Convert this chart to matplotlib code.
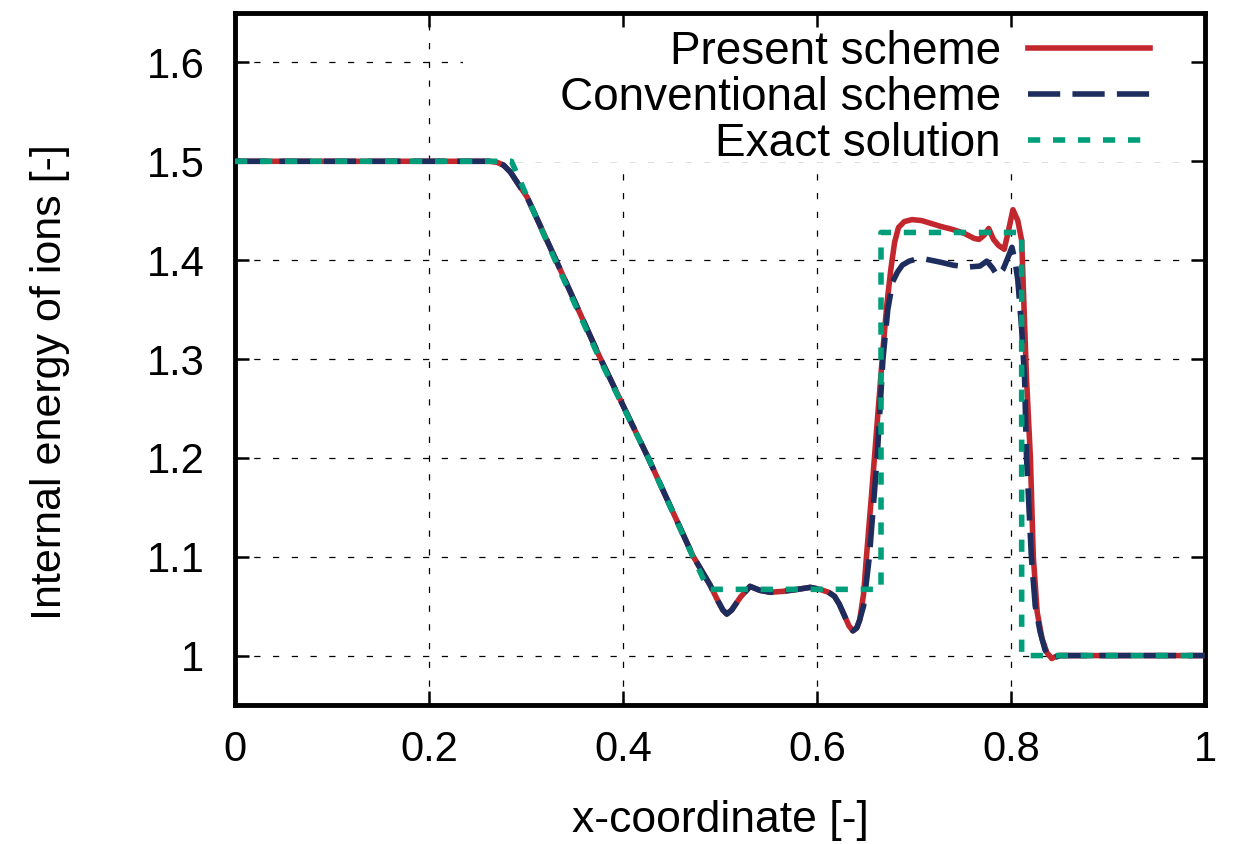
import matplotlib
matplotlib.use("Agg")
import matplotlib.pyplot as plt
from matplotlib.patches import Rectangle

plt.rcParams['font.family'] = ['Liberation Sans', 'DejaVu Sans']

# ---------------- data ----------------
x_present = [0, 0.262, 0.270, 0.277, 0.284, 0.292, 0.301, 0.330, 0.376, 0.426,
             0.472, 0.481, 0.490, 0.498, 0.503, 0.507, 0.512, 0.521, 0.531, 0.541,
             0.552, 0.565, 0.580, 0.593, 0.603, 0.612, 0.618, 0.623, 0.628, 0.633,
             0.637, 0.641, 0.644, 0.648, 0.651, 0.656, 0.660, 0.664, 0.668, 0.672,
             0.676, 0.680, 0.684, 0.690, 0.698, 0.708, 0.718, 0.728, 0.740, 0.752,
             0.762, 0.767, 0.772, 0.777, 0.782, 0.787, 0.793, 0.797, 0.802, 0.807,
             0.811, 0.816, 0.820, 0.823, 0.827, 0.832, 0.837, 0.842, 0.848, 0.86, 1.0]
e_present = [1.5, 1.5, 1.499, 1.496, 1.489, 1.477, 1.464, 1.402, 1.302, 1.2,
             1.101, 1.086, 1.071, 1.055, 1.046, 1.042, 1.046, 1.059, 1.070, 1.066,
             1.064, 1.065, 1.067, 1.069, 1.067, 1.064, 1.060, 1.052, 1.041, 1.030,
             1.025, 1.028, 1.036, 1.062, 1.10, 1.16, 1.21, 1.26, 1.31, 1.355,
             1.39, 1.418, 1.433, 1.439, 1.441, 1.440, 1.437, 1.434, 1.431, 1.427,
             1.422, 1.421, 1.425, 1.432, 1.421, 1.415, 1.411, 1.428, 1.451, 1.440,
             1.42, 1.28, 1.2, 1.1, 1.044, 1.017, 1.003, 0.997, 1.0, 1.0, 1.0]

x_conv = [0, 0.262, 0.270, 0.277, 0.284, 0.292, 0.301, 0.330, 0.376, 0.426,
          0.472, 0.481, 0.490, 0.498, 0.503, 0.507, 0.512, 0.521, 0.531, 0.541,
          0.552, 0.565, 0.580, 0.593, 0.603, 0.612, 0.618, 0.623, 0.628, 0.633,
          0.637, 0.641, 0.644, 0.648, 0.651, 0.654, 0.658, 0.662, 0.665, 0.668,
          0.673, 0.678, 0.683, 0.688, 0.695, 0.702, 0.712, 0.727, 0.740, 0.755,
          0.768, 0.775, 0.781, 0.786, 0.792, 0.797, 0.801, 0.804, 0.807, 0.811,
          0.814, 0.816, 0.821, 0.825, 0.830, 0.835, 0.839, 0.843, 0.85, 0.86, 1.0]
e_conv = [1.5, 1.5, 1.499, 1.496, 1.489, 1.477, 1.464, 1.402, 1.302, 1.2,
          1.101, 1.086, 1.071, 1.055, 1.046, 1.042, 1.046, 1.059, 1.070, 1.066,
          1.064, 1.065, 1.067, 1.069, 1.067, 1.064, 1.060, 1.052, 1.041, 1.030,
          1.025, 1.028, 1.036, 1.05, 1.075, 1.10, 1.15, 1.20, 1.25, 1.30,
          1.35, 1.378, 1.388, 1.395, 1.399, 1.401, 1.401, 1.398, 1.395, 1.393,
          1.394, 1.399, 1.392, 1.384, 1.391, 1.403, 1.413, 1.40, 1.38, 1.33,
          1.28, 1.2, 1.1, 1.05, 1.024, 1.006, 0.999, 0.997, 1.0, 1.0, 1.0]

x_exact = [0, 0.285, 0.330, 0.376, 0.426, 0.472, 0.488, 0.666, 0.666, 0.811, 0.811, 1.0]
e_exact = [1.5, 1.5, 1.4, 1.3, 1.2, 1.1, 1.067, 1.067, 1.428, 1.428, 1.0, 1.0]

labels = ["Present scheme", "Conventional scheme", "Exact solution"]
xticks = [0, 0.2, 0.4, 0.6, 0.8, 1.0]
xticklabels = ["0", "0.2", "0.4", "0.6", "0.8", "1"]
yticks = [1.0, 1.1, 1.2, 1.3, 1.4, 1.5, 1.6]
yticklabels = ["1", "1.1", "1.2", "1.3", "1.4", "1.5", "1.6"]

c_red = '#c1272d'
c_blue = '#1c2d5e'
c_green = '#009e7a'

# ---------------- figure ----------------
fig = plt.figure(figsize=(12.39, 8.44), dpi=100)
rect = [235 / 1239, 1 - 705 / 844, 970 / 1239, 692 / 844]

# background axes carrying only the grid
ax_bg = fig.add_axes(rect)
ax_bg.set_xlim(0, 1)
ax_bg.set_ylim(0.95, 1.65)
ax_bg.set_xticks(xticks)
ax_bg.set_yticks(yticks)
ax_bg.tick_params(length=0, labelbottom=False, labelleft=False)
for s in ax_bg.spines.values():
    s.set_visible(False)
ax_bg.grid(True, color='black', lw=0.9, ls=(0, (5, 10)))

# main axes
ax = fig.add_axes(rect, facecolor='none')
ax.set_xlim(0, 1)
ax.set_ylim(0.95, 1.65)

# opaque key area (covers grid)
ax.add_patch(Rectangle((0.235, 0.785), 0.765, 0.215, transform=ax.transAxes,
                       facecolor='white', edgecolor='none', zorder=1))

lw = 4.0
l1, = ax.plot(x_present, e_present, color=c_red, lw=lw, zorder=3,
              solid_joinstyle='round')
l2, = ax.plot(x_conv, e_conv, color=c_blue, lw=lw, ls=(0, (5.8, 2.2)), zorder=4,
              dash_joinstyle='round')
l3, = ax.plot(x_exact, e_exact, color=c_green, lw=lw, ls=(0, (2.2, 2.3)), zorder=5)

ax.set_xticks(xticks)
ax.set_xticklabels(xticklabels)
ax.set_yticks(yticks)
ax.set_yticklabels(yticklabels)
ax.tick_params(axis='both', direction='in', length=10, width=1.8,
               top=True, right=True, labelsize=30, colors='black')
ax.tick_params(axis='x', pad=18)
ax.tick_params(axis='y', pad=22)
for s in ax.spines.values():
    s.set_linewidth(3.5)

ax.set_xlabel("x-coordinate [-]", fontsize=32)
ax.set_ylabel("Internal energy of ions [-]", fontsize=31)
ax.xaxis.set_label_coords(0.5, -0.138)
ax.yaxis.set_label_coords(-0.17, 0.467)

leg = ax.legend([l1, l2, l3], labels, loc='upper right',
                bbox_to_anchor=(0.943, 0.975), frameon=False, markerfirst=False,
                handlelength=2.65, handletextpad=0.6, labelspacing=0.04,
                borderpad=0, borderaxespad=0, fontsize=33)
leg.set_zorder(6)
try:
    leg._legend_handle_box.get_children()[0].align = 'right'
except Exception:
    pass

fig.savefig("out.png", dpi=100)
